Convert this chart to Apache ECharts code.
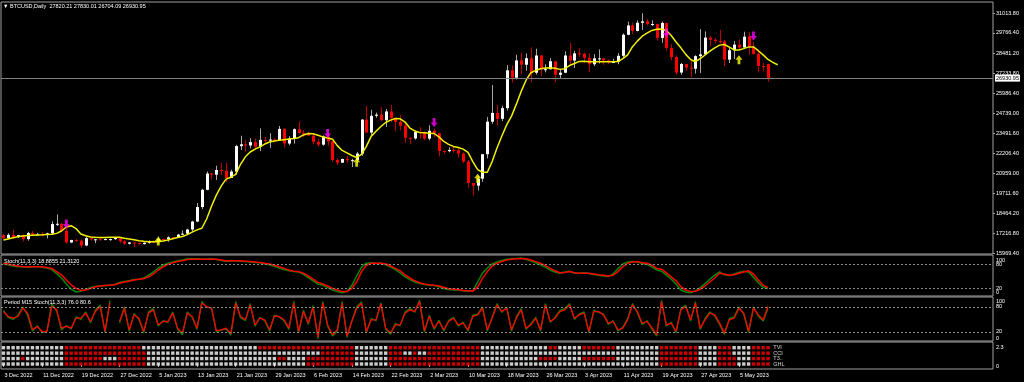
<!DOCTYPE html>
<html><head><meta charset="utf-8">
<script src="https://cdn.jsdelivr.net/npm/echarts@6/dist/echarts.min.js"></script>
<style>html,body{margin:0;padding:0;background:#000;}#c{width:1024px;height:382px;}</style>
</head><body><div id="c"></div>
<script>
// ---------- DATA ----------
const tickLabels = ['3 Dec 2022','11 Dec 2022','19 Dec 2022','27 Dec 2022','5 Jan 2023','13 Jan 2023','21 Jan 2023','29 Jan 2023','6 Feb 2023','14 Feb 2023','22 Feb 2023','2 Mar 2023','10 Mar 2023','18 Mar 2023','26 Mar 2023','3 Apr 2023','11 Apr 2023','19 Apr 2023','27 Apr 2023','5 May 2023'];
const priceTicks = [15969.40,17216.80,18464.20,19711.60,20959.00,22206.40,23491.60,24739.00,25986.40,27233.80,28481.20,29766.40,31013.80];
const lastPrice = 26930.95;

const openP = [
17090,16890,17110,16970,17090,16840,17220,17130,17130,17100,
17200,17780,17800,17360,16630,16780,16740,16440,16900,16820,
16830,16790,16840,16840,16920,16700,16550,16630,16600,16530,
16610,16680,16670,16850,16830,16950,16940,17120,17180,17440,
17940,18850,19930,20950,20880,21170,21130,20680,21070,22670,
22780,22710,22920,22630,23060,23010,23080,23030,23750,22830,
23130,23730,23490,23430,23330,22940,22760,23260,22960,21800,
21630,21860,21780,21790,22200,24330,23520,24570,24640,24290,
24840,24440,24190,23950,23190,23150,23560,23490,23140,23630,
23470,22360,22350,22430,22410,22200,21700,20360,20190,20630,
22160,24200,24750,24380,25050,27420,26960,28040,27770,28180,
27270,28350,27480,27490,27990,27140,27270,28350,28030,28480,
28460,28200,27800,28170,28170,28040,27920,27950,28330,29650,
30230,29890,30400,30490,30320,30320,29450,30390,28820,28250,
27280,27820,27590,27520,28310,28420,29470,29340,29250,29230,
28090,28680,29030,28850,29530,28900,28450,27690,27820.21];
const highP = [
17150,17200,17420,17100,17130,17300,17350,17230,17270,17240,
17960,18390,17850,17530,16800,16860,16810,17010,16910,16860,
16950,16870,16870,16940,16960,16780,16660,16640,16630,16630,
16760,16780,16990,16880,17020,16970,17170,17390,17490,17990,
19100,19990,21080,20990,21440,21620,21640,21190,22750,23320,
23060,23160,23130,23780,23240,23480,23160,23930,23790,23290,
23780,24220,23670,23560,23430,23140,23340,23430,23000,21900,
21890,22060,21880,22310,24360,25200,24950,24770,25120,25000,
25250,24450,24600,24120,23210,23650,23860,23600,23970,23770,
23480,22400,22600,22600,22540,22270,21800,20360,20820,22170,
24500,26500,25240,25200,27750,27730,28400,28520,28480,28860,
28780,28380,27790,28190,28000,27460,28610,29150,28640,28800,
28520,28490,28440,28730,28180,28100,28150,28500,29740,30470,
30410,30560,31000,30620,30550,30330,30480,30400,29070,28360,
27880,27820,28000,28370,30000,29860,29580,29440,29950,29330,
28880,29260,29360,29840,29800,29200,28630,27900,27830.01];
const lowP = [
16860,16880,16870,16910,16690,16740,17080,17090,17070,16880,
17090,17660,17280,16570,16590,16670,16300,16400,16750,16590,
16780,16780,16740,16790,16610,16480,16500,16340,16490,16500,
16550,16610,16650,16750,16680,16910,16910,17100,17140,17320,
17910,18730,19900,20600,20550,20860,20410,20670,20880,22420,
22330,22530,22470,22360,22900,22560,22900,23000,22580,22720,
22820,23440,23230,23290,22780,22640,22700,22700,21700,21490,
21620,21640,21360,21570,22060,23530,23360,24450,24270,23880,
24170,23610,23660,22880,22780,23080,23150,23040,23030,23230,
22020,22200,22280,22260,21950,21600,20050,19570,19890,20430,
21900,24070,23960,24240,24900,26660,26850,27180,27400,26670,
27160,27050,27290,27460,26660,26910,27250,27730,27570,28270,
27880,27290,27690,27850,27760,27800,27880,27800,28200,29620,
29700,29860,29950,30240,30200,29280,29140,28650,28050,27150,
27140,27380,26970,27220,27250,28400,28910,29100,29100,27680,
27880,28130,28710,28850,28400,28400,27280,27350,26704.09];
const closeP = [
16890,17110,16970,17090,16840,17220,17130,17130,17100,17200,
17780,17800,17360,16630,16780,16740,16440,16900,16820,16830,
16790,16840,16840,16920,16700,16550,16630,16600,16530,16610,
16680,16670,16850,16830,16950,16940,17120,17180,17440,17940,
18850,19930,20950,20880,21170,21130,20680,21070,22670,22780,
22710,22920,22630,23060,23010,23080,23030,23750,22830,23130,
23730,23490,23430,23330,22940,22760,23260,22960,21800,21630,
21860,21780,21790,22200,24330,23520,24570,24640,24290,24840,
24440,24190,23950,23190,23150,23560,23490,23140,23630,23470,
22360,22350,22430,22410,22200,21700,20360,20190,20630,22160,
24200,24750,24380,25050,27420,26960,28040,27770,28180,27270,
28350,27480,27490,27990,27140,27270,28350,28030,28480,28460,
28200,27800,28170,28170,28040,27920,27950,28330,29650,30230,
29890,30400,30490,30320,30320,29450,30390,28820,28250,27280,
27820,27590,27520,28310,28420,29470,29340,29250,29230,28090,
28680,29030,28850,29530,28900,28450,27690,27620,26930.95];

const yellowLine = [
16780,16850,16920,16990,17040,17060,17080,17100,17110,17130,
17150,17200,17350,17600,17680,17500,17160,17050,16970,16950,
16940,16940,16950,16960,16960,16900,16850,16800,16740,16700,
16680,16680,16680,16720,16780,16860,16940,17000,17120,17280,
17420,17520,18100,18900,19600,20160,20600,20720,20900,21530,
22000,22300,22480,22620,22800,22930,22990,23030,23070,23110,
23150,23200,23370,23460,23440,23350,23250,23180,23100,22700,
22400,22250,22080,21960,22150,22650,23280,23600,23900,24150,
24300,24400,24380,24180,23800,23620,23520,23500,23480,23460,
23250,22960,22780,22650,22580,22480,22280,21700,21200,21030,
21030,21700,22550,23300,24000,24550,25300,26100,26800,27270,
27420,27520,27560,27580,27550,27480,27520,27720,27850,27980,
27990,27960,27960,27960,27960,27960,27960,27970,28150,28390,
28900,29250,29560,29750,29920,29990,30010,29920,29600,29200,
28830,28420,28100,27960,28150,28380,28620,28830,29000,29040,
28870,28700,28700,28780,28890,28890,28650,28390,28100,27920,27770];

const downArrows = [[13,17785],[67,23463],[89,24150],[137,29766],[155,29578]];
const upArrows = [[32,16724],[73,21654],[98,20655],[152,28081]];

const stochMain = [
80,78,75,73,73,72,73,74,72,70,
66,56,45,30,17,10,12,17,21,24,
25,26,27,29,34,36,38,41,42,45,
52,60,70,77,82,85,88,90,93,93,
93,92,92,93,91,89,87,89,88,87,
86,85,84,83,80,78,74,70,66,63,
61,60,54,46,38,30,27,21,15,11,
8,12,26,50,72,82,83,81,82,78,
72,66,58,48,41,35,31,29,27,26,
23,19,16,15,15,13,12,13,35,57,
70,80,85,89,92,93,94,95,92,88,
83,78,72,65,60,57,60,62,57,57,
58,56,54,52,50,49,55,68,80,85,
86,85,81,79,73,65,62,52,42,30,
15,10,8,13,21,31,42,52,60,53,
51,55,59,62,60,47,33,22,19];
const stochSignal = [
82,80,77,75,73,73,73,73,73,71,
69,61,53,40,28,19,14,15,19,23,
25,26,27,28,32,35,37,40,42,43,
48,55,65,73,79,83,86,88,91,92,
92,92,92,92,92,90,88,88,88,88,
87,86,85,84,82,80,77,73,69,65,
62,61,57,50,42,34,30,25,19,15,
11,11,19,35,61,77,82,82,82,80,
75,69,63,53,45,38,33,30,28,27,
25,22,18,17,16,14,13,12,22,44,
61,75,82,86,90,92,93,94,93,90,
86,82,76,69,63,58,59,61,58,57,
57,57,55,53,52,50,52,61,73,82,
85,86,83,82,77,69,67,58,48,38,
23,15,11,12,17,25,35,45,57,55,
52,53,57,60,63,55,40,27,21];

const m15Main = [
72,55,50,60,80,60,22,35,18,22,
88,70,25,35,27,56,50,68,42,72,
85,18,95,null,42,80,22,64,50,18,
68,76,34,47,43,68,26,13,68,55,
26,93,79,78,20,24,27,12,93,54,
47,88,34,55,47,22,60,56,47,26,
93,18,72,38,83,4,93,34,10,22,
93,7,47,80,92,18,52,47,90,26,
14,40,35,68,76,67,96,20,60,26,
48,22,47,55,34,43,22,60,63,80,
22,56,88,67,80,22,56,76,26,40,
55,22,88,43,55,72,76,88,50,63,
68,18,72,67,63,38,47,22,31,52,
88,66,38,47,27,10,96,34,43,18,
76,84,46,92,26,52,68,58,38,14,
52,56,80,62,18,80,58,46,76];
const m15Signal = [
69,57,53,57,77,65,25,33,21,21,
82,73,29,33,29,53,53,65,45,69,
81,21,90,null,45,77,25,61,53,21,
65,73,37,45,45,65,29,17,65,57,
29,89,81,77,23,25,29,15,89,57,
49,85,37,53,49,25,58,57,49,29,
89,21,69,41,79,7,89,37,13,25,
89,10,45,77,89,21,49,49,87,29,
17,37,37,65,73,69,93,23,57,29,
45,25,45,53,37,41,25,57,61,77,
25,53,85,69,77,25,53,73,29,37,
53,25,85,45,53,69,73,85,53,61,
65,21,69,69,61,41,45,25,29,49,
85,69,41,45,30,13,93,37,41,21,
73,81,49,89,29,49,65,61,41,17,
49,53,77,65,21,77,61,49,81];

const innerLevelLabels = ['20','80'];
const outerLevelLabels = ['0','100'];
const rowNames = ['TVI','CCI','T3..','GHL'];
const redTVI = [[13,28],[53,72],[80,98],[113,114],[120,126],[136,143],[148,150],[155,158]];
const redCCI = [[13,29],[66,72],[80,82],[85,85],[88,98],[136,143],[148,150],[155,158]];
const redT3  = [[4,4],[13,20],[24,29],[57,58],[63,72],[80,98],[111,114],[120,126],[136,143],[148,151],[155,158]];
const redGHL = [[13,29],[63,72],[80,98],[136,143],[148,151],[155,158]];
const gridScaleLabels = ['0','2.3'];

// ---------- CHART ----------
const FONT = 'Liberation Sans, Arial, sans-serif';
const TXT = '#ffffff';
const FRAME = '#a0a0a0';
const SLOTS = 205;
const cats = Array.from({length: SLOTS}, (_, i) => String(i));
const nBars = closeP.length;
const candleData = closeP.map((c, i) => [i, openP[i], c, lowP[i], highP[i]]);

const rowRanges = [redTVI, redCCI, redT3, redGHL];
const cellsRed = [], cellsWhite = [];
rowRanges.forEach((ranges, r) => {
  const yv = 3 - r;
  for (let i = 0; i < nBars; i++) {
    const red = ranges.some(([a, b]) => i >= a && i <= b);
    (red ? cellsRed : cellsWhite).push([i, yv]);
  }
});

function xAx(gi, show) {
  return {
    type: 'category', gridIndex: gi, data: cats, boundaryGap: true,
    axisLine: {show: false},
    axisTick: show ? {show: true, alignWithLabel: true, length: 3, lineStyle: {color: FRAME},
      interval: (idx) => idx % 8 === 0 && idx / 8 < tickLabels.length} : {show: false},
    axisLabel: show ? {show: true, color: TXT, fontSize: 5.5, fontFamily: FONT, align: 'left', margin: 3,
      padding: [0, 0, 0, 1],
      interval: (idx) => idx % 8 === 0 && idx / 8 < tickLabels.length,
      formatter: (v, idx) => tickLabels[idx / 8] || ''} : {show: false},
    splitLine: {show: false}
  };
}
const lblBase = {color: TXT, fontSize: 5.5, fontFamily: FONT};
function levelAxis(gi, min, max, anchors, texts) {
  return {
    type: 'value', gridIndex: gi, position: 'right', offset: 0, min, max,
    axisLine: {show: false}, splitLine: {show: false},
    axisTick: {show: false},
    axisLabel: Object.assign({show: true, margin: 3, hideOverlap: false,
      customValues: anchors,
      formatter: (v) => texts[anchors.indexOf(v)]
    }, lblBase)
  };
}
const titleStyle = {color: TXT, fontSize: 5.5, fontFamily: FONT, fontWeight: 'normal'};
const dotted = {color: '#8a8a8a', type: [2, 2], width: 1};

const option = {
  backgroundColor: '#000000',
  animation: false,
  title: [
    {text: '\u25BC BTCUSD,Daily  27820.21 27830.01 26704.09 26930.95', left: 3, top: 3, padding: 0, textStyle: titleStyle},
    {text: 'Stoch(11,3,3) 18.8855 21.3120', left: 4, top: 258, padding: 0, textStyle: titleStyle},
    {text: 'Period M15 Stoch(11,3,3) 76.0 80.6', left: 4, top: 299, padding: 0, textStyle: titleStyle}
  ],
  grid: [
    {left: 1, top: 2, width: 992, height: 252, show: true, borderColor: FRAME, borderWidth: 1, backgroundColor: 'transparent'},
    {left: 1, top: 255, width: 992, height: 41, show: true, borderColor: FRAME, borderWidth: 1, backgroundColor: 'transparent'},
    {left: 1, top: 297, width: 992, height: 44, show: true, borderColor: FRAME, borderWidth: 1, backgroundColor: 'transparent'},
    {left: 1, top: 342, width: 992, height: 27, show: true, borderColor: FRAME, borderWidth: 1, backgroundColor: 'transparent'}
  ],
  xAxis: [xAx(0, false), xAx(1, false), xAx(2, false), xAx(3, true)],
  yAxis: [
    {type: 'value', gridIndex: 0, position: 'right', min: 15906.7, max: 31703,
      axisLine: {show: false}, splitLine: {show: false},
      axisTick: {show: true, length: 2, customValues: priceTicks, lineStyle: {color: FRAME}},
      axisLabel: Object.assign({show: true, margin: 3, customValues: priceTicks, formatter: (v) => v.toFixed(2)}, lblBase)},
    levelAxis(1, 0, 102.5, [20, 80], innerLevelLabels),
    levelAxis(2, -2, 104, [20, 80], innerLevelLabels),
    {type: 'value', gridIndex: 3, position: 'right', min: -0.92, max: 4.05,
      axisLine: {show: false}, splitLine: {show: false}, axisTick: {show: false},
      axisLabel: Object.assign({show: true, margin: 3, customValues: [-0.37, 3.13],
        formatter: (v) => v < 1 ? gridScaleLabels[0] : gridScaleLabels[1]}, lblBase)},
    levelAxis(1, 0, 102.5, [10, 90], outerLevelLabels),
    levelAxis(2, -2, 104, [5, 92], outerLevelLabels)
  ],
  series: [
    {
      type: 'custom', xAxisIndex: 0, yAxisIndex: 0, data: candleData,
      encode: {x: 0, y: [1, 2, 3, 4]},
      renderItem: (params, api) => {
        const i = api.value(0), o = api.value(1), c = api.value(2), l = api.value(3), h = api.value(4);
        const px = Math.round(api.coord([i, o])[0]);
        const yo = api.coord([i, o])[1], yc = api.coord([i, c])[1];
        const yl = api.coord([i, l])[1], yh = api.coord([i, h])[1];
        const up = c >= o;
        const top = Math.min(yo, yc);
        const bh = Math.max(1, Math.abs(yo - yc));
        return {type: 'group', children: [
          {type: 'line', shape: {x1: px + 0.5, y1: yh, x2: px + 0.5, y2: yl},
            style: {stroke: up ? '#a8a8a8' : '#c00000', lineWidth: 1}},
          {type: 'rect', shape: {x: px - 1, y: top, width: 3, height: bh},
            style: {fill: up ? '#ffffff' : '#ff0000'}}
        ]};
      }
    },
    {
      type: 'line', xAxisIndex: 0, yAxisIndex: 0, data: yellowLine, showSymbol: false, symbol: 'none',
      lineStyle: {color: '#f0f000', width: 1.5}, z: 3,
      markLine: {silent: true, symbol: ['none', 'none'], animation: false,
        lineStyle: {color: '#808080', type: 'solid', width: 1},
        label: {show: true, position: 'end', distance: 2, formatter: () => lastPrice.toFixed(2),
          backgroundColor: '#ffffff', color: '#000000', fontSize: 5.5, fontFamily: FONT, padding: [1, 1, 0, 1]},
        data: [{yAxis: lastPrice}]}
    },
    {
      type: 'scatter', xAxisIndex: 0, yAxisIndex: 0, data: downArrows, z: 5,
      symbol: 'path://M3,0 L7,0 L7,6 L10,6 L5,12 L0,6 L3,6 Z', symbolSize: [7, 9],
      itemStyle: {color: '#ff00ff'}
    },
    {
      type: 'scatter', xAxisIndex: 0, yAxisIndex: 0, data: upArrows, z: 5,
      symbol: 'path://M5,0 L10,6 L7,6 L7,12 L3,12 L3,6 L0,6 Z', symbolSize: [7, 9],
      itemStyle: {color: '#ffff00'}
    },
    {
      type: 'line', xAxisIndex: 1, yAxisIndex: 1, data: stochMain, showSymbol: false, symbol: 'none',
      lineStyle: {color: '#008a00', width: 1.5},
      markLine: {silent: true, symbol: ['none', 'none'], label: {show: false}, lineStyle: dotted,
        data: [{yAxis: 80}, {yAxis: 20}]}
    },
    {
      type: 'line', xAxisIndex: 1, yAxisIndex: 1, data: stochSignal, showSymbol: false, symbol: 'none',
      lineStyle: {color: '#ff0000', width: 1.5}
    },
    {
      type: 'line', xAxisIndex: 2, yAxisIndex: 2, data: m15Main, showSymbol: false, symbol: 'none',
      connectNulls: false, lineStyle: {color: '#008a00', width: 1.3},
      markLine: {silent: true, symbol: ['none', 'none'], label: {show: false}, lineStyle: dotted,
        data: [{yAxis: 80}, {yAxis: 20}]}
    },
    {
      type: 'line', xAxisIndex: 2, yAxisIndex: 2, data: m15Signal, showSymbol: false, symbol: 'none',
      connectNulls: false, lineStyle: {color: '#ff0000', width: 1.3}
    },
    {
      type: 'scatter', xAxisIndex: 3, yAxisIndex: 3, data: cellsWhite, symbol: 'rect', symbolSize: [3.4, 3.4],
      itemStyle: {color: '#ffffff'}
    },
    {
      type: 'scatter', xAxisIndex: 3, yAxisIndex: 3, data: cellsRed, symbol: 'rect', symbolSize: [3.4, 3.4],
      itemStyle: {color: '#ff0000'}
    },
    {
      type: 'scatter', xAxisIndex: 3, yAxisIndex: 3, symbolSize: 1, itemStyle: {color: 'rgba(0,0,0,0)'},
      data: rowNames.map((nm, r) => [159, 3 - r]),
      label: {show: true, position: 'right', distance: 0, formatter: (p) => rowNames[p.dataIndex],
        color: TXT, fontSize: 5.5, fontFamily: FONT}
    }
  ]
};
const chart = echarts.init(document.getElementById('c'));
chart.setOption(option);
</script>
</body></html>
